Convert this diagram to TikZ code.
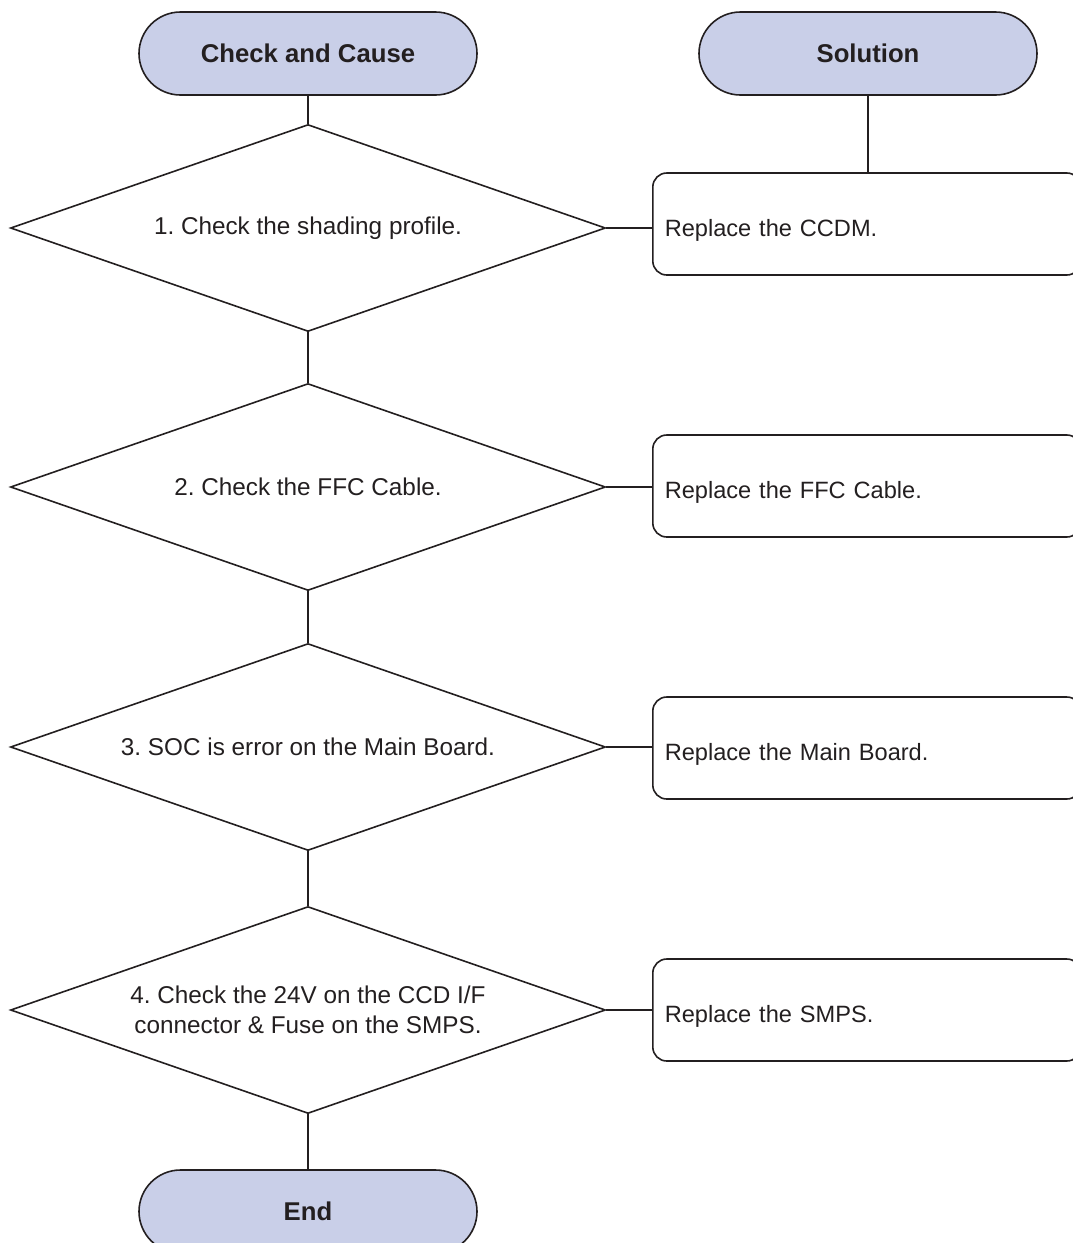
\documentclass[tikz,border=0pt]{standalone}
\usepackage{fontspec}
\setmainfont{Liberation Sans}
\usetikzlibrary{shapes.geometric}
\definecolor{termfill}{RGB}{201,207,232}
\definecolor{ink}{RGB}{35,31,32}
\frenchspacing
\begin{document}
\begin{tikzpicture}[x=1pt,y=-1pt,
  term/.style={draw=ink, fill=termfill, line width=1.6pt, rounded corners=41.5pt,
    minimum width=338pt, minimum height=83pt, inner sep=0pt,
    font=\fontsize{25.7}{30}\selectfont\bfseries, text=ink},
  dec/.style={draw=ink, line width=1.6pt, diamond, shape aspect=2.87,
    minimum width=595pt, minimum height=207pt, inner sep=0pt, align=center,
    font=\fontsize{24.3}{30.5}\selectfont, text=ink},
  sol/.style={draw=ink, line width=1.6pt, rounded corners=14pt, anchor=west,
    minimum width=428pt, minimum height=102pt, text width=404pt, inner xsep=12pt,
    text height=24pt, text depth=0pt,
    align=left, font=\fontsize{23.6}{28}\selectfont, text=ink},
  link/.style={draw=ink, line width=1.6pt}]
\useasboundingbox (0,0) rectangle (1072,1243);
\node[term] (cc) at (308,53.5) {Check and Cause};
\node[term] (so) at (868,53.5) {Solution};
\node[dec] (d1) at (308,228) {1. Check the shading profile.};
\node[dec] (d2) at (308,487) {2. Check the FFC Cable.};
\node[dec] (d3) at (308,747) {3. SOC is error on the Main Board.};
\node[dec] (d4) at (308,1010) {4. Check the 24V on the CCD I/F\\connector \& Fuse on the SMPS.};
\node[term] (en) at (308,1211.5) {End};
\node[sol] (s1) at (652,224) {Replace the CCDM.};
\node[sol] (s2) at (652,486) {Replace the FFC Cable.};
\node[sol] (s3) at (652,748) {Replace the Main Board.};
\node[sol] (s4) at (652,1010) {Replace the SMPS.};
\draw[link] (cc.south) -- (d1.north);
\draw[link] (d1.south) -- (d2.north);
\draw[link] (d2.south) -- (d3.north);
\draw[link] (d3.south) -- (d4.north);
\draw[link] (d4.south) -- (en.north);
\draw[link] (so.south) -- (so.south |- s1.north);
\draw[link] (d1.east) -- (d1.east -| s1.west);
\draw[link] (d2.east) -- (d2.east -| s2.west);
\draw[link] (d3.east) -- (d3.east -| s3.west);
\draw[link] (d4.east) -- (d4.east -| s4.west);
\end{tikzpicture}
\end{document}
